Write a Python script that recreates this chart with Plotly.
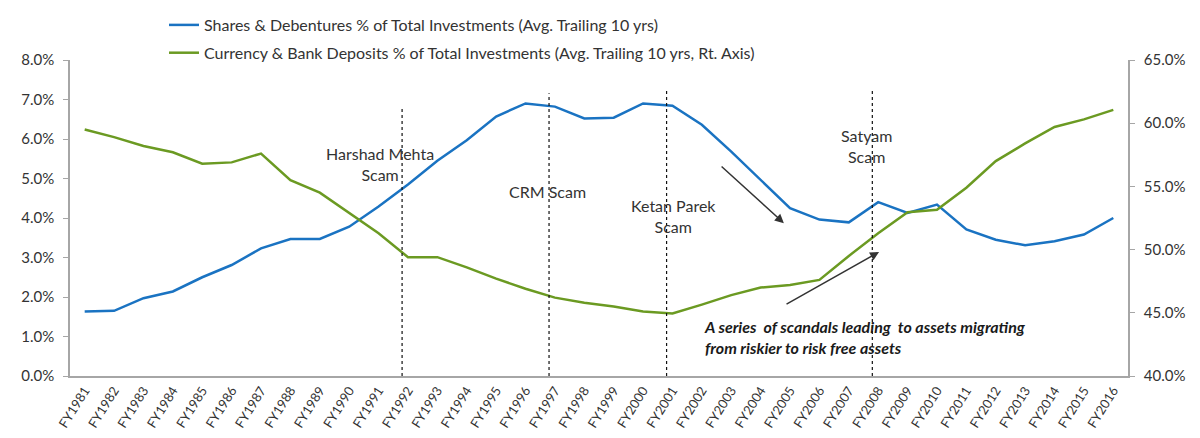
"""Shares vs currency & bank deposits share of household investments, FY1981-FY2016."""

import plotly.graph_objects as go

# Fiscal years on the category axis
years = [f"FY{y}" for y in range(1981, 2017)]

# Shares & Debentures % of total investments (avg. trailing 10 yrs), left axis
shares_pct = [
    1.63, 1.65, 1.97, 2.14, 2.50, 2.81, 3.23, 3.47, 3.47, 3.78,
    4.29, 4.85, 5.45, 5.97, 6.57, 6.90, 6.82, 6.52, 6.54, 6.90,
    6.84, 6.36, 5.68, 4.97, 4.25, 3.96, 3.89, 4.40, 4.13, 4.34,
    3.71, 3.45, 3.31, 3.41, 3.58, 4.00,
]

# Currency & Bank Deposits % of total investments (avg. trailing 10 yrs), right axis
deposits_pct = [
    59.5, 58.9, 58.2, 57.7, 56.8, 56.9, 57.6, 55.5, 54.5, 52.9,
    51.3, 49.4, 49.4, 48.6, 47.7, 46.9, 46.2, 45.8, 45.5, 45.1,
    44.95, 45.65, 46.4, 47.0, 47.2, 47.6, 49.5, 51.3, 52.95, 53.15,
    54.9, 57.0, 58.4, 59.7, 60.3, 61.05,
]

# Scam events: (year, label, top of marker line on left axis)
events = [
    ("FY1992", "Harshad Mehta<br>Scam", 6.81),
    ("FY1997", "CRM Scam", 7.16),
    ("FY2001", "Ketan Parek<br>Scam", 7.29),
    ("FY2008", "Satyam<br>Scam", 7.24),
]

# label positions (category index, left-axis value) for each event
label_pos = [(10.05, 5.37), (15.76, 4.66), (20.05, 4.05), (26.6, 5.82)]

FONT = "Lato, 'Open Sans', sans-serif"
TEXT_COLOR = "#333333"
AXIS_COLOR = "#a6a6a6"

fig = go.Figure()

fig.add_trace(
    go.Scatter(
        x=years,
        y=shares_pct,
        mode="lines",
        name="Shares & Debentures % of Total Investments (Avg. Trailing 10 yrs)",
        line={"color": "#1a73c2", "width": 2.5},
        legendgroup="a",
    )
)

fig.add_trace(
    go.Scatter(
        x=years,
        y=deposits_pct,
        mode="lines",
        name="Currency & Bank Deposits % of Total Investments (Avg. Trailing 10 yrs, Rt. Axis)",
        line={"color": "#6b9a22", "width": 2.5},
        yaxis="y2",
        legendgroup="b",
    )
)

# Dotted marker lines and labels for each scam
for (year, label, top), (lx, ly) in zip(events, label_pos):
    idx = years.index(year) - 0.2
    fig.add_shape(
        type="line",
        xref="x",
        yref="y",
        x0=idx,
        x1=idx,
        y0=0,
        y1=top,
        line={"color": "#111111", "width": 1.2, "dash": "dot"},
    )
    fig.add_annotation(
        x=lx,
        y=ly,
        xref="x",
        yref="y",
        text=label,
        showarrow=False,
        font={"family": FONT, "size": 16, "color": TEXT_COLOR},
        align="center",
    )

# Arrows showing the shift from risky to risk-free assets
fig.add_annotation(
    x=23.79, y=3.87, ax=21.62, ay=5.34,
    xref="x", yref="y", axref="x", ayref="y",
    text="", showarrow=True, arrowhead=2, arrowsize=1.2,
    arrowwidth=1.5, arrowcolor="#333333",
)
fig.add_annotation(
    x=27.03, y=3.14, ax=23.83, ay=1.80,
    xref="x", yref="y", axref="x", ayref="y",
    text="", showarrow=True, arrowhead=2, arrowsize=1.2,
    arrowwidth=1.5, arrowcolor="#333333",
)
fig.add_annotation(
    x=21.0,
    y=0.99,
    xref="x",
    yref="y",
    xanchor="left",
    text="<b><i>A series  of scandals leading  to assets migrating<br>"
    "from riskier to risk free assets</i></b>",
    showarrow=False,
    align="left",
    font={"family": FONT, "size": 16, "color": "#1a1a1a"},
)

fig.update_layout(
    width=1200,
    height=438,
    margin={"l": 62, "r": 80, "t": 52, "b": 70, "autoexpand": False},
    plot_bgcolor="white",
    paper_bgcolor="white",
    font={"family": FONT, "size": 14, "color": TEXT_COLOR},
    showlegend=True,
    legend={
        "xref": "container",
        "yref": "container",
        "x": 0.13,
        "y": 1.008,
        "xanchor": "left",
        "yanchor": "top",
        "traceorder": "grouped",
        "tracegroupgap": 4,
        "font": {"family": FONT, "size": 16, "color": TEXT_COLOR},
        "bgcolor": "rgba(0,0,0,0)",
    },
    xaxis={
        "type": "category",
        "tickangle": -58,
        "dtick": 1,
        "showgrid": False,
        "showline": True,
        "linecolor": AXIS_COLOR,
        "linewidth": 1.5,
        "ticks": "",
        "tickfont": {"size": 13},
        "range": [-0.5, len(years) - 0.5],
    },
    yaxis={
        "range": [0, 8],
        "dtick": 1,
        "tickformat": ".1f",
        "ticksuffix": "%",
        "showgrid": False,
        "zeroline": False,
        "showline": True,
        "linecolor": AXIS_COLOR,
        "linewidth": 1.5,
        "ticks": "outside",
        "ticklen": 5,
        "tickcolor": AXIS_COLOR,
        "ticklabelstandoff": 6,
        "tickfont": {"size": 15},
    },
    yaxis2={
        "range": [40, 65],
        "dtick": 5,
        "tickformat": ".1f",
        "ticksuffix": "%",
        "overlaying": "y",
        "side": "right",
        "showgrid": False,
        "zeroline": False,
        "showline": True,
        "linecolor": AXIS_COLOR,
        "linewidth": 1.5,
        "ticks": "outside",
        "ticklen": 5,
        "tickcolor": AXIS_COLOR,
        "ticklabelstandoff": 6,
        "tickfont": {"size": 15},
    },
)

fig.write_html("out.html")
